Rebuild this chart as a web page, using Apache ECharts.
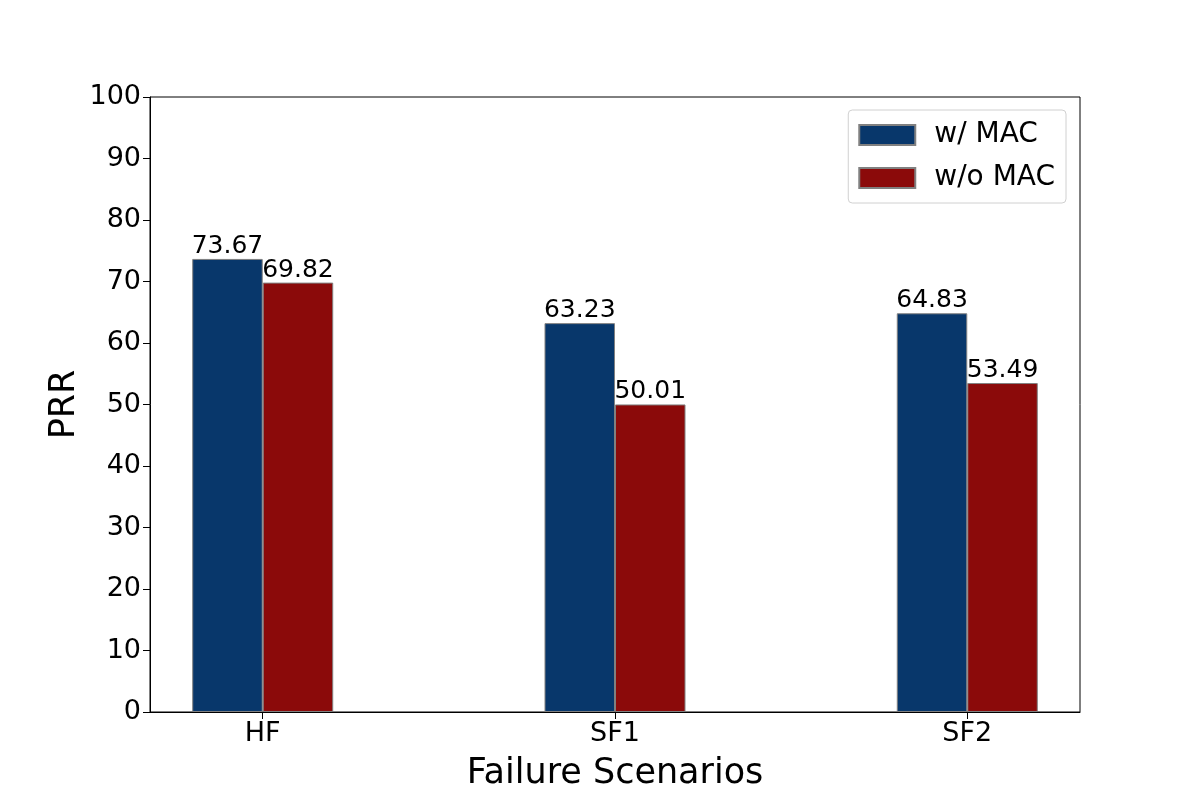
<!DOCTYPE html>
<html>
<head>
<meta charset="utf-8">
<script src="https://cdn.jsdelivr.net/npm/echarts@6/dist/echarts.min.js"></script>
<style>
  html, body { margin: 0; padding: 0; background: #fff; }
  #main { width: 1200px; height: 800px; }
</style>
</head>
<body>
<div id="main"></div>
<script>
const categories = ['HF', 'SF1', 'SF2'];
const withMac = [73.67, 63.23, 64.83];
const withoutMac = [69.82, 50.01, 53.49];
const yTicks = [0, 10, 20, 30, 40, 50, 60, 70, 80, 90, 100];

const font = 'DejaVu Sans';
const chart = echarts.init(document.getElementById('main'), null, { renderer: 'canvas' });

// bar series on a value x axis, so the groups sit at 0, 1, 2 like matplotlib
function toPoints(values) {
  return values.map((v, i) => [i, v]);
}

const labelStyle = {
  show: true,
  position: 'top',
  distance: 0,
  color: '#000',
  fontSize: 25,
  fontFamily: font,
  formatter: p => p.value[1].toFixed(2)
};

const options = {
  animation: false,
  grid: {
    left: 150,
    right: 120,
    top: 97,
    bottom: 88,
    show: true,
    borderColor: '#000',
    borderWidth: 1,
    backgroundColor: 'transparent'
  },
  legend: {
    data: ['w/ MAC', 'w/o MAC'],
    orient: 'vertical',
    right: 134,
    top: 110,
    icon: 'rect',
    itemWidth: 56,
    itemHeight: 20,
    itemGap: 15,
    padding: [11, 11, 11, 10],
    borderColor: '#d0d0d0',
    borderWidth: 1,
    borderRadius: 4,
    backgroundColor: '#fff',
    textStyle: { fontSize: 28, fontFamily: font, color: '#000', padding: [0, 0, 0, 14] }
  },
  xAxis: {
    type: 'value',
    min: -0.32,
    max: 2.32,
    name: 'Failure Scenarios',
    nameLocation: 'middle',
    nameGap: 44,
    nameTextStyle: { fontSize: 35, fontFamily: font, color: '#000' },
    axisLine: { show: true, onZero: false, lineStyle: { color: '#000', width: 1 } },
    axisTick: { show: true, length: 7, customValues: [0, 1, 2], lineStyle: { color: '#000' } },
    axisLabel: {
      customValues: [0, 1, 2],
      formatter: v => categories[Math.round(v)],
      fontSize: 27,
      fontFamily: font,
      color: '#000',
      margin: 8
    },
    splitLine: { show: false }
  },
  yAxis: {
    type: 'value',
    min: 0,
    max: 100,
    interval: 10,
    name: 'PRR',
    nameLocation: 'middle',
    nameRotate: 90,
    nameGap: 68,
    nameMoveOverlap: false,
    nameTextStyle: { fontSize: 35, fontFamily: font, color: '#000' },
    axisLine: { show: true, onZero: false, lineStyle: { color: '#000', width: 1 } },
    axisTick: { show: true, length: 7, lineStyle: { color: '#000' } },
    axisLabel: {
      fontSize: 27,
      fontFamily: font,
      color: '#000',
      margin: 9,
      formatter: v => (yTicks.indexOf(v) >= 0 ? String(v) : '')
    },
    splitLine: { show: false }
  },
  series: [{
    name: 'w/ MAC',
    type: 'bar',
    barWidth: 70.5,
    barGap: 0,
    data: toPoints(withMac),
    itemStyle: { color: '#08376b', borderColor: '#808080', borderWidth: 1 },
    label: labelStyle
  }, {
    name: 'w/o MAC',
    type: 'bar',
    barWidth: 70.5,
    barGap: 0,
    data: toPoints(withoutMac),
    itemStyle: { color: '#8b0a0a', borderColor: '#808080', borderWidth: 1 },
    label: labelStyle
  }]
};

chart.setOption(options);
</script>
</body>
</html>
